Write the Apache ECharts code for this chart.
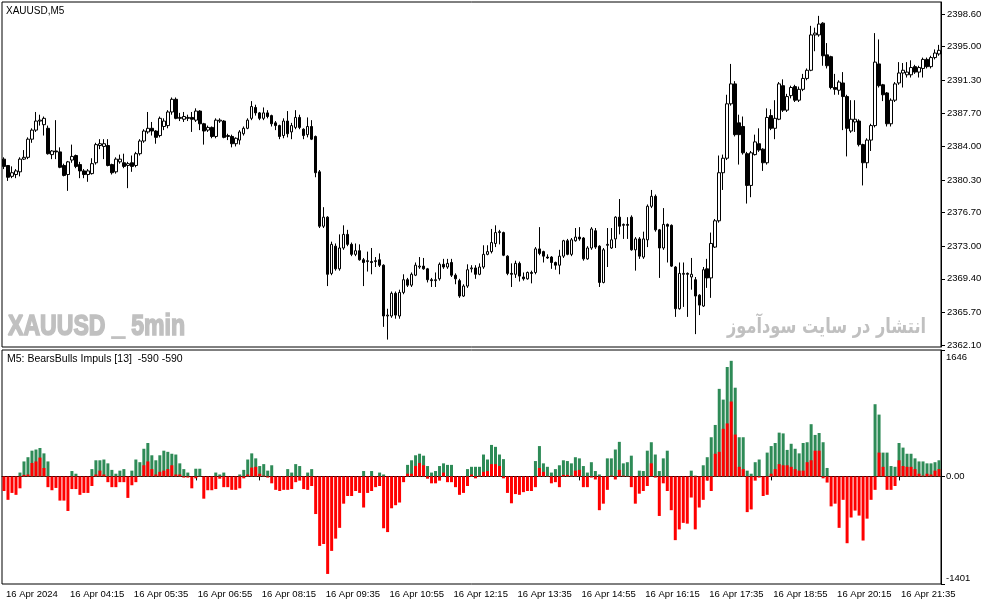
<!DOCTYPE html>
<html><head><meta charset="utf-8">
<script src="https://cdn.jsdelivr.net/npm/echarts@6/dist/echarts.min.js"></script>
<style>html,body{margin:0;padding:0;background:#fff}#c{width:987px;height:605px}</style>
</head><body><div id="c"></div>
<script>
const opens=[2382.6,2381.9,2380.7,2380.9,2381.2,2382.6,2382.8,2384.8,2385.8,2386.8,
2386.4,2386.0,2383.1,2383.5,2383.4,2381.9,2380.9,2382.5,2383.0,2382.0,
2381.3,2380.9,2381.0,2382.2,2384.1,2384.0,2384.1,2382.0,2381.2,2382.3,
2382.2,2381.9,2382.2,2381.9,2383.2,2384.6,2385.6,2386.0,2385.7,2385.2,
2386.2,2386.3,2387.8,2389.2,2387.1,2387.0,2387.1,2387.2,2386.9,2387.9,
2386.5,2385.8,2386.1,2385.1,2386.8,2386.8,2385.1,2385.1,2384.3,2384.7,
2385.4,2386.0,2387.1,2388.3,2387.7,2387.1,2387.7,2387.4,2386.6,2386.3,
2385.2,2386.8,2385.6,2386.1,2387.2,2385.9,2385.3,2386.2,2385.1,2381.2,
2375.2,2376.2,2370.0,2373.0,2370.5,2372.8,2374.3,2373.2,2372.1,2372.5,
2371.5,2371.3,2371.3,2371.3,2371.5,2370.9,2365.3,2365.3,2367.8,2365.3,
2367.9,2369.3,2368.7,2369.8,2370.7,2370.8,2370.5,2369.3,2369.2,2369.4,
2371.0,2370.7,2371.2,2369.8,2369.2,2367.5,2368.6,2370.5,2370.6,2369.9,
2370.7,2372.1,2372.4,2373.3,2374.5,2374.5,2371.9,2370.0,2369.9,2371.1,
2369.6,2369.4,2370.1,2370.1,2372.7,2372.4,2371.8,2371.8,2371.2,2370.9,
2371.9,2373.6,2372.1,2373.6,2374.0,2373.9,2371.6,2372.8,2374.7,2373.0,
2369.0,2373.1,2372.8,2373.8,2376.2,2375.3,2375.4,2376.2,2372.6,2373.8,
2371.8,2373.7,2377.4,2378.5,2374.8,2372.8,2375.4,2375.3,2370.7,2366.1,
2369.9,2370.0,2369.6,2369.3,2367.6,2366.4,2370.5,2369.5,2372.9,2375.8,
2381.1,2382.7,2388.7,2390.9,2386.6,2386.2,2383.2,2379.7,2383.1,2384.3,
2383.7,2382.2,2387.4,2386.0,2387.0,2390.7,2388.0,2389.6,2390.6,2389.1,
2390.3,2391.5,2392.4,2396.3,2396.3,2397.6,2394.1,2393.9,2390.5,2390.2,
2391.0,2389.5,2385.7,2386.7,2386.8,2384.2,2382.2,2384.7,2386.3,2393.1,
2390.8,2389.9,2386.5,2389.1,2391.0,2392.1,2391.9,2391.9,2392.8,2392.2,
2392.6,2393.6,2392.8,2393.8,2394.2];
const highs=[2382.8,2381.9,2381.8,2381.5,2382.8,2383.6,2385.0,2386.0,2387.8,2387.5,
2387.3,2386.3,2383.6,2386.9,2383.9,2382.1,2382.4,2384.2,2383.1,2382.3,
2381.5,2381.5,2382.7,2384.4,2384.8,2384.8,2384.8,2382.1,2382.8,2383.1,
2383.2,2382.3,2383.0,2383.4,2384.8,2385.9,2387.8,2386.7,2385.8,2387.3,
2387.1,2388.0,2389.4,2389.4,2387.7,2387.8,2387.5,2387.8,2388.2,2388.0,
2386.6,2386.3,2386.2,2387.1,2387.1,2386.9,2385.4,2385.3,2385.0,2385.8,
2386.2,2387.1,2389.0,2388.6,2387.8,2388.3,2388.0,2387.5,2386.8,2386.4,
2387.1,2387.9,2386.6,2388.0,2387.5,2386.0,2387.2,2386.9,2385.2,2381.4,
2377.3,2376.3,2373.5,2373.3,2374.3,2375.3,2374.8,2373.4,2373.3,2373.2,
2371.7,2372.4,2372.8,2371.8,2372.2,2371.0,2366.1,2368.0,2368.0,2368.2,
2369.9,2369.5,2370.1,2371.2,2371.8,2371.7,2370.6,2369.5,2370.1,2371.2,
2371.6,2371.6,2371.6,2370.0,2369.4,2368.8,2371.0,2370.9,2370.9,2371.1,
2373.1,2373.1,2374.9,2375.3,2374.8,2374.6,2372.0,2371.1,2371.4,2371.3,
2370.1,2370.2,2370.3,2372.9,2375.1,2372.5,2372.1,2371.9,2371.3,2372.6,
2373.7,2373.8,2373.9,2375.0,2375.1,2374.0,2373.0,2375.1,2375.0,2373.1,
2372.8,2375.0,2375.0,2376.3,2378.2,2375.5,2376.2,2376.4,2374.0,2374.0,
2374.6,2377.6,2379.2,2378.7,2374.9,2377.2,2375.5,2375.4,2370.8,2371.2,
2371.2,2370.1,2371.7,2369.6,2367.7,2370.7,2371.6,2374.5,2376.0,2383.0,
2383.1,2389.7,2393.1,2391.2,2387.5,2387.3,2383.4,2383.5,2385.3,2386.0,
2383.8,2388.2,2388.1,2389.1,2391.1,2391.4,2389.8,2390.7,2390.8,2390.6,
2392.0,2392.6,2397.3,2397.1,2398.4,2397.7,2395.4,2394.0,2392.0,2391.3,
2392.2,2389.7,2389.1,2389.1,2387.0,2384.3,2384.9,2386.5,2396.5,2395.8,
2390.9,2390.0,2389.3,2391.1,2393.3,2393.2,2393.3,2393.5,2393.0,2392.9,
2393.8,2393.8,2394.0,2394.7,2395.2];
const lows=[2381.5,2380.2,2380.5,2380.5,2380.7,2382.5,2382.6,2384.4,2385.6,2386.3,
2385.2,2383.1,2382.6,2382.6,2381.6,2380.7,2379.1,2382.2,2381.6,2380.5,
2380.5,2380.1,2380.9,2382.0,2383.7,2382.6,2381.8,2380.9,2381.0,2382.1,
2381.6,2379.4,2381.2,2381.7,2383.0,2384.4,2385.4,2385.2,2384.3,2385.0,
2385.8,2386.0,2387.5,2387.0,2386.8,2386.7,2386.8,2385.6,2386.7,2385.8,
2384.2,2385.6,2384.9,2384.9,2386.6,2384.9,2384.7,2383.9,2384.0,2384.2,
2385.2,2385.9,2386.9,2387.4,2386.9,2386.9,2387.1,2386.2,2385.8,2384.8,
2384.9,2385.0,2384.8,2385.9,2385.9,2384.8,2385.0,2384.7,2380.6,2375.0,
2375.0,2368.6,2369.8,2370.3,2370.3,2372.6,2373.0,2371.9,2371.9,2371.4,
2368.6,2370.2,2369.9,2370.7,2370.7,2364.1,2362.7,2365.1,2365.0,2365.0,
2367.7,2368.5,2368.5,2369.7,2370.5,2370.4,2369.0,2368.5,2368.5,2369.2,
2370.5,2370.5,2369.6,2368.8,2367.3,2367.4,2368.4,2370.1,2369.4,2369.8,
2370.5,2372.0,2372.2,2372.9,2373.2,2371.9,2369.8,2368.5,2369.5,2369.1,
2369.2,2369.3,2368.9,2369.9,2372.0,2371.2,2371.6,2370.5,2370.4,2369.9,
2371.7,2372.0,2371.9,2373.5,2373.6,2371.4,2371.5,2372.6,2372.7,2368.5,
2368.9,2370.7,2372.7,2372.8,2374.3,2373.8,2373.8,2372.5,2370.3,2371.6,
2371.6,2372.9,2377.2,2374.6,2369.5,2372.6,2371.2,2370.7,2365.2,2366.0,
2366.3,2365.2,2368.2,2363.3,2365.4,2366.3,2368.4,2367.3,2372.8,2375.6,
2379.2,2382.5,2388.5,2385.1,2382.0,2383.1,2377.7,2378.4,2383.0,2383.4,
2381.3,2382.0,2385.8,2384.8,2386.9,2387.8,2387.8,2389.3,2388.9,2388.9,
2390.1,2391.3,2392.3,2394.5,2396.1,2392.9,2392.6,2390.3,2389.7,2389.7,
2385.8,2382.9,2385.5,2385.6,2384.0,2379.7,2381.6,2383.5,2386.1,2390.5,
2389.0,2386.2,2386.2,2388.9,2390.8,2390.5,2391.6,2391.6,2392.0,2391.6,
2391.6,2392.6,2392.6,2393.6,2394.0];
const closes=[2381.8,2380.6,2381.1,2381.3,2382.6,2382.8,2384.8,2385.8,2386.8,2386.9,
2387.1,2383.2,2383.5,2383.4,2381.7,2380.8,2382.3,2382.9,2381.8,2381.3,
2380.9,2381.3,2382.1,2384.2,2384.3,2384.3,2381.9,2381.1,2382.6,2382.6,
2381.8,2382.1,2381.8,2383.2,2384.6,2385.7,2386.0,2385.7,2385.0,2387.1,
2386.8,2387.8,2389.2,2387.1,2387.2,2387.3,2387.2,2387.0,2387.9,2386.5,
2385.7,2386.1,2385.1,2386.9,2386.9,2385.0,2385.2,2384.3,2384.9,2385.6,
2386.0,2386.9,2388.4,2387.7,2387.1,2387.7,2387.3,2386.5,2386.3,2385.1,
2386.8,2385.4,2386.3,2387.2,2386.1,2385.2,2386.2,2384.8,2381.1,2375.2,
2376.2,2369.9,2373.2,2370.5,2372.8,2374.3,2373.2,2372.1,2372.5,2371.5,
2371.2,2371.4,2371.2,2371.4,2370.9,2365.3,2365.4,2367.8,2365.4,2367.9,
2369.3,2368.7,2369.9,2370.9,2370.8,2370.5,2369.3,2369.2,2369.3,2371.0,
2370.7,2371.1,2369.8,2369.4,2367.5,2368.6,2370.4,2370.6,2369.9,2370.7,
2372.1,2372.4,2373.4,2374.5,2374.6,2372.0,2370.0,2369.9,2371.1,2369.7,
2369.4,2370.1,2370.0,2372.7,2372.2,2371.9,2371.7,2371.2,2370.9,2371.9,
2373.6,2372.1,2373.7,2374.0,2373.8,2371.6,2372.8,2374.9,2372.9,2369.0,
2372.6,2373.2,2373.7,2376.2,2375.2,2375.4,2375.3,2372.6,2373.8,2371.9,
2373.8,2377.4,2378.5,2374.8,2372.8,2375.4,2375.2,2370.8,2366.1,2370.0,
2370.0,2369.9,2369.9,2367.5,2366.5,2370.4,2369.5,2373.3,2375.8,2381.1,
2382.7,2388.7,2390.9,2385.3,2385.3,2383.3,2379.7,2383.3,2384.5,2383.6,
2382.2,2387.2,2386.0,2387.1,2390.9,2388.0,2389.5,2390.5,2389.1,2390.3,
2391.5,2392.4,2396.3,2396.5,2397.5,2394.0,2392.9,2390.5,2390.3,2391.1,
2389.5,2386.0,2387.0,2387.0,2384.2,2382.2,2384.7,2386.3,2393.3,2390.7,
2389.7,2386.5,2389.1,2390.9,2392.1,2392.4,2392.2,2392.7,2392.2,2392.7,
2393.6,2392.8,2393.8,2394.3,2394.6];
const bullsValues=[null,null,null,null,50,195,250,335,350,370,
300,195,null,null,null,null,null,70,35,null,
null,null,95,210,210,220,170,85,35,75,
95,null,75,220,185,360,435,275,210,275,
335,320,295,285,170,95,50,null,100,100,
null,null,null,50,25,50,null,null,null,25,
85,220,300,235,135,160,75,145,null,null,
null,95,50,160,135,null,50,95,null,null,
null,null,null,null,null,null,null,null,null,null,
70,null,70,null,50,25,null,null,null,null,
null,150,210,275,295,270,135,50,70,135,
170,150,150,null,null,null,95,125,125,125,
285,220,410,385,285,225,null,null,null,null,
null,null,null,200,395,170,125,50,95,145,
210,200,170,250,235,135,50,185,70,25,
null,235,235,350,450,170,185,270,null,75,
70,335,445,285,70,235,335,null,null,null,
null,null,75,10,null,145,250,510,670,1140,
1000,1425,1505,1155,510,510,75,35,185,220,
null,310,395,435,570,560,345,425,360,300,
435,445,680,540,565,445,110,null,null,null,
null,null,null,null,null,null,null,null,940,805,
310,310,135,125,435,375,295,295,235,195,
195,170,170,185,210];
const bearsValues=[-190,-305,-215,-240,-155,20,25,175,195,245,
110,-140,-180,-150,-315,-315,-450,-165,-165,-240,
-215,-215,-125,25,75,25,-75,-140,-140,-75,
-75,-280,-115,-75,-5,145,195,95,25,60,
75,95,145,25,25,-15,-15,-155,-25,-5,
-290,-180,-180,-165,-30,-140,-140,-175,-175,-155,
-25,25,115,125,35,10,-15,-90,-175,-190,
-175,-175,-165,-75,-55,-165,-175,-125,-490,-905,
-880,-1270,-970,-810,-670,-355,-255,-255,-190,-215,
-405,-215,-190,-140,-125,-675,-725,-415,-375,-340,
-75,35,35,135,175,145,-30,-90,-90,-55,
50,-75,-75,-140,-240,-215,-125,25,-25,10,
60,70,160,160,135,-25,-215,-350,-230,-240,
-205,-190,-190,-140,110,60,-5,-90,-75,-140,
20,20,10,75,85,-140,-140,-15,-40,-440,
-355,-175,10,-40,85,10,5,-140,-355,-225,
-190,-125,170,-15,-515,-90,-190,-440,-830,-690,
-605,-615,-275,-690,-405,-305,-55,-190,295,320,
620,690,975,545,125,95,-465,-430,-55,-15,
-255,-240,35,95,160,145,145,125,95,75,
75,185,210,335,335,-25,-80,-390,-355,-670,
-305,-870,-535,-445,-510,-835,-550,-305,-175,310,
125,-175,-175,-125,210,135,125,125,95,35,
10,35,25,75,95];
const priceTicks=[2362.10,2365.70,2369.40,2373.00,2376.70,2380.30,2384.00,2387.70,2391.30,2395.00,2398.60];
const impulsTicks=[-1401,0,1646];
const impulsTickLabels=['-1401','0.00','1646'];
const timeTickLabels=['16 Apr 2024','16 Apr 04:15','16 Apr 05:35','16 Apr 06:55','16 Apr 08:15','16 Apr 09:35','16 Apr 10:55','16 Apr 12:15','16 Apr 13:35','16 Apr 14:55','16 Apr 16:15','16 Apr 17:35','16 Apr 18:55','16 Apr 20:15','16 Apr 21:35'];
const labelStep=16;

const times=[];
for(let i=0;i<opens.length;i++){const m=2*60+55+5*i;times.push(String(Math.floor(m/60)).padStart(2,'0')+':'+String(m%60).padStart(2,'0'));}
const candles=opens.map((o,i)=>[o,closes[i],lows[i],highs[i]]);

const ctx=document.createElement('canvas').getContext('2d');
function fit(text,font,w){ctx.font=font;return w/ctx.measureText(text).width;}
const wmFont='bold 29px "Liberation Sans"';
const wmText='XAUUSD _ 5min';
const faFont='bold 21px "DejaVu Sans"';
const faText='انتشار در سایت سودآموز';
const axisFont='"Liberation Sans"';

const chart=echarts.init(document.getElementById('c'),null,{renderer:'canvas'});
chart.setOption({
  animation:false,
  backgroundColor:'#fff',
  grid:[
    {left:2,top:2,width:939,height:345,show:true,borderColor:'#000',borderWidth:1},
    {left:2,top:350,width:939,height:234,show:true,borderColor:'#000',borderWidth:1}
  ],
  xAxis:[
    {type:'category',gridIndex:0,data:times,boundaryGap:true,axisLine:{show:false},axisTick:{show:false},axisLabel:{show:false},splitLine:{show:false}},
    {type:'category',gridIndex:1,data:times,boundaryGap:true,
     axisLine:{show:true,lineStyle:{color:'#000',width:1}},
     axisTick:{show:true,alignWithLabel:true,length:4,interval:(i)=>i%labelStep===0,lineStyle:{color:'#000'}},
     axisLabel:{show:true,interval:(i)=>i%labelStep===0,align:'left',margin:5,padding:[0,0,0,2],
       fontFamily:axisFont,fontSize:9.5,color:'#000',
       formatter:(v,i)=>timeTickLabels[Math.round(i/labelStep)]||''},
     splitLine:{show:false}}
  ],
  yAxis:[
    {type:'value',gridIndex:0,position:'right',min:2361.88,max:2399.93,scale:true,
     axisLine:{show:true,lineStyle:{color:'#000'}},
     axisTick:{show:true,length:4,customValues:priceTicks,lineStyle:{color:'#000'}},
     axisLabel:{show:true,customValues:priceTicks,margin:6,fontFamily:axisFont,fontSize:9.5,color:'#000',formatter:(v)=>v.toFixed(2)},
     splitLine:{show:false}},
    {type:'value',gridIndex:1,position:'right',min:-1401,max:1646,
     axisLine:{show:true,lineStyle:{color:'#000'}},
     axisTick:{show:true,length:4,customValues:impulsTicks,lineStyle:{color:'#000'}},
     axisLabel:{show:true,customValues:impulsTicks,margin:5,fontFamily:axisFont,fontSize:9.5,color:'#000',
       formatter:(v)=>{const k=impulsTicks.indexOf(v);const s=k>=0?impulsTickLabels[k]:String(v);
         if(v===impulsTicks[2])return '{t|'+s+'}';if(v===impulsTicks[0])return '{b|'+s+'}';return s;},
       rich:{t:{padding:[14,0,0,0],fontFamily:axisFont,fontSize:9.5,color:'#000'},b:{padding:[0,0,12,0],fontFamily:axisFont,fontSize:9.5,color:'#000'}}},
     splitLine:{show:false}}
  ],
  series:[
    {type:'candlestick',xAxisIndex:0,yAxisIndex:0,data:candles,barWidth:3,
     itemStyle:{color:'#fff',color0:'#000',borderColor:'#000',borderColor0:'#000',borderWidth:1}},
    {type:'bar',xAxisIndex:1,yAxisIndex:1,data:bullsValues,barWidth:3,itemStyle:{color:'#2e8b57'}},
    {type:'bar',xAxisIndex:1,yAxisIndex:1,data:bearsValues,barWidth:3,barGap:'-100%',itemStyle:{color:'#ff0000'}}
  ],
  graphic:[
    {type:'text',x:6,y:11,z:100,style:{text:'XAUUSD,M5',font:'10px "Liberation Sans"',fill:'#000',align:'left',verticalAlign:'middle'}},
    {type:'text',x:7,y:359,z:100,style:{text:'M5: BearsBulls Impuls [13]  -590 -590',font:'10.5px "Liberation Sans"',fill:'#000',align:'left',verticalAlign:'middle'}},
    {type:'text',x:8,y:327,z:100,scaleX:fit(wmText,wmFont,177),style:{text:wmText,font:wmFont,fill:'#c0c0c0',stroke:'#c0c0c0',lineWidth:1.6,align:'left',verticalAlign:'middle'}},
    {type:'text',x:727,y:328,z:100,scaleX:fit(faText,faFont,199),style:{text:faText,font:faFont,fill:'#c0c0c0',align:'left',verticalAlign:'middle'}}
  ]
});
</script></body></html>
